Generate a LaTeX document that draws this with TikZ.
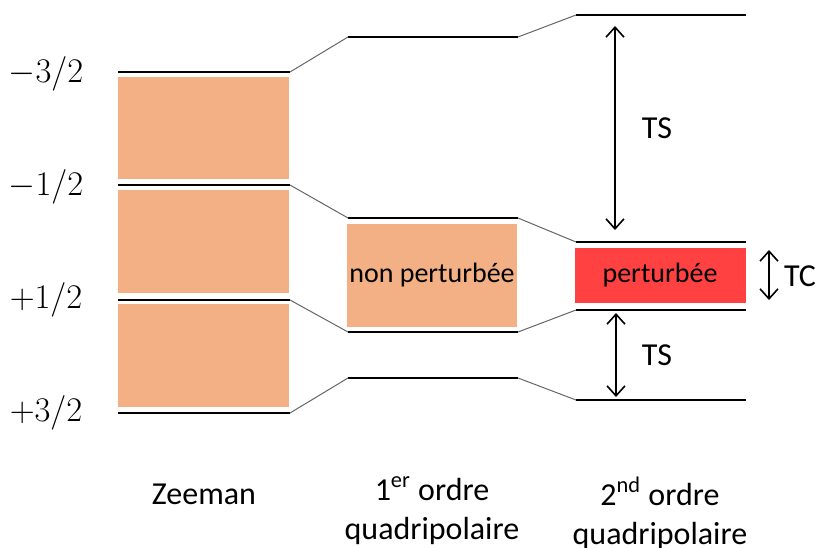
\documentclass[tikz,border=0pt]{standalone}
\usepackage{fontspec}
\setmainfont{Carlito}
\usetikzlibrary{arrows.meta}
\definecolor{bandorange}{HTML}{F2B084}
\definecolor{bandred}{HTML}{FF4141}

\begin{document}
\begin{tikzpicture}[x=0.5pt, y=-0.5pt, font=\fontsize{16}{19.5}\selectfont,
  level/.style = {black, line width=1.1pt},
  link/.style = {gray!80!black, line width=0.5pt},
  gap/.style = {line width=0.8pt, {Straight Barb[length=5pt,width=9pt]}-{Straight Barb[length=5pt,width=9pt]}},
  small/.style = {font=\fontsize{14}{17}\selectfont}]
\useasboundingbox (0,0) rectangle (820,547);
\fill[bandorange] (118,77) rectangle (289,179);
\fill[bandorange] (118,190) rectangle (289,293);
\fill[bandorange] (118,304) rectangle (289,407);
\fill[bandorange] (347,224) rectangle (517,327);
\fill[bandred] (575,248) rectangle (746,303);
\coordinate (z1) at (118,72);  \coordinate (z1e) at (290,72);
\coordinate (z2) at (118,185); \coordinate (z2e) at (290,185);
\coordinate (z3) at (118,300); \coordinate (z3e) at (290,300);
\coordinate (z4) at (118,413); \coordinate (z4e) at (290,413);
\coordinate (p1) at (348,37);  \coordinate (p1e) at (518,37);
\coordinate (p2) at (348,218); \coordinate (p2e) at (518,218);
\coordinate (p3) at (348,332); \coordinate (p3e) at (518,332);
\coordinate (p4) at (348,378); \coordinate (p4e) at (518,378);
\coordinate (s1) at (576,15);  \coordinate (s1e) at (746,15);
\coordinate (s2) at (576,242); \coordinate (s2e) at (746,242);
\coordinate (s3) at (576,310); \coordinate (s3e) at (746,310);
\coordinate (s4) at (576,400); \coordinate (s4e) at (746,400);
\draw[level] (z1) -- (z1e);
\draw[level] (z2) -- (z2e);
\draw[level] (z3) -- (z3e);
\draw[level] (z4) -- (z4e);
\draw[level] (p1) -- (p1e);
\draw[level] (p2) -- (p2e);
\draw[level] (p3) -- (p3e);
\draw[level] (p4) -- (p4e);
\draw[level] (s1) -- (s1e);
\draw[level] (s2) -- (s2e);
\draw[level] (s3) -- (s3e);
\draw[level] (s4) -- (s4e);
\draw[link] (z1e) -- (p1);
\draw[link] (z2e) -- (p2);
\draw[link] (z3e) -- (p3);
\draw[link] (z4e) -- (p4);
\draw[link] (p1e) -- (s1);
\draw[link] (p2e) -- (s2);
\draw[link] (p3e) -- (s3);
\draw[link] (p4e) -- (s4);
\node (m1) at (46,74) {$-3/2$};
\node (m2) at (46,187) {$-1/2$};
\node (m3) at (46,300) {$+1/2$};
\node (m4) at (46,413) {$+3/2$};
\node[small] (np) at (432,275) {non perturbée};
\node[small] (pt) at (660,275) {perturbée};
\coordinate (a1) at (615,26);  \coordinate (a1e) at (615,230);
\coordinate (a2) at (616,313); \coordinate (a2e) at (616,397);
\coordinate (a3) at (769,250); \coordinate (a3e) at (769,300);
\draw[gap] (a1) -- (a1e);
\draw[gap] (a2) -- (a2e);
\draw[gap] (a3) -- (a3e);
\node (ts1) at (657,128) {TS};
\node (ts2) at (657,355) {TS};
\node (tc) at (800,276) {TC};
\node (zee) at (204,494) {Zeeman};
\node[align=center, anchor=north] (ord1) at (432,470) {1\textsuperscript{er} ordre\\quadripolaire};
\node[align=center, anchor=north] (ord2) at (660,470) {2\textsuperscript{nd} ordre\\quadripolaire};
\end{tikzpicture}
\end{document}
